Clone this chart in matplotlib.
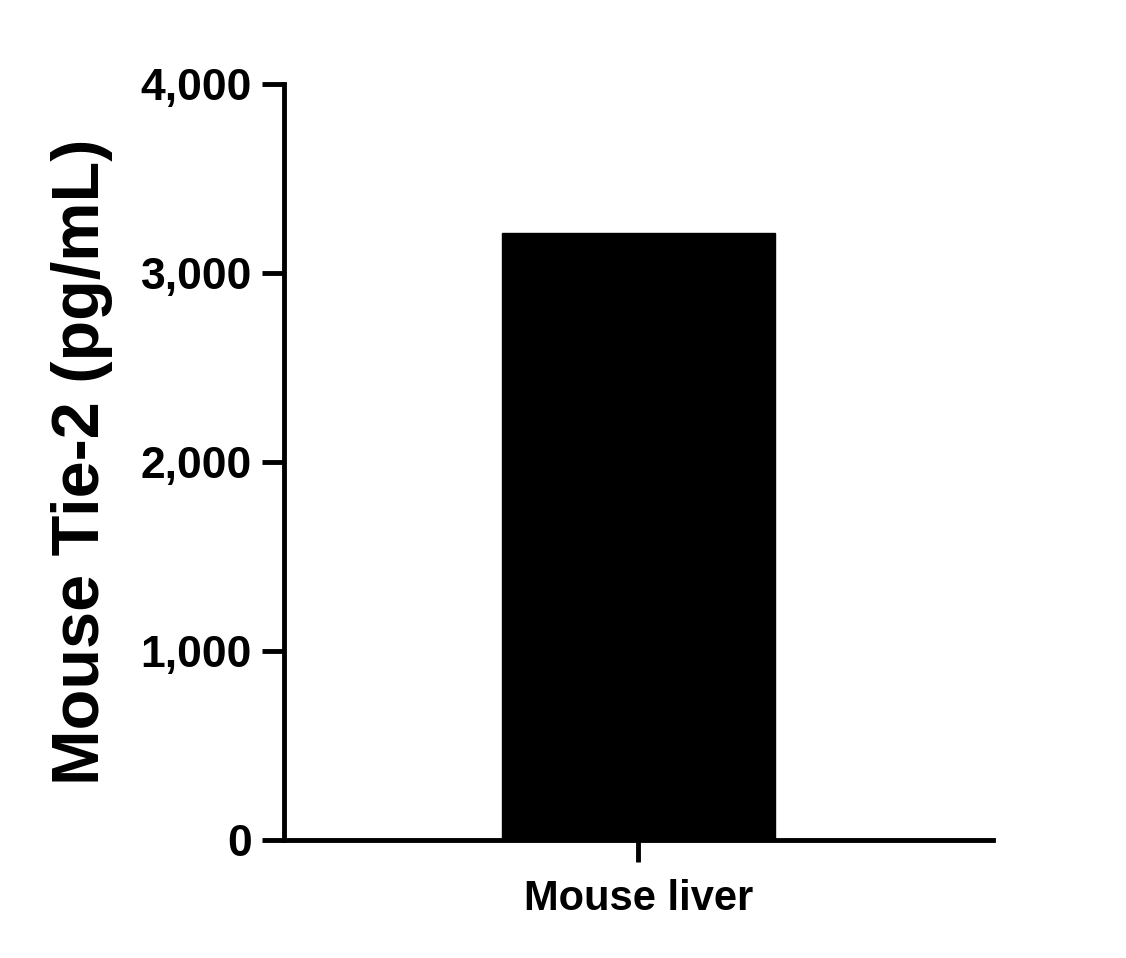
import numpy as np
import matplotlib
matplotlib.use("Agg")
import matplotlib.pyplot as plt

# datos del grafico
grupos = ["Mouse liver"]
valores = [3212]
ticks_y = [0, 1000, 2000, 3000, 4000]

plt.rcParams['font.family'] = ['Liberation Sans', 'DejaVu Sans']
plt.rcParams['font.weight'] = 'bold'

fig = plt.figure(figsize=(11.26, 9.58), dpi=100)
ax = fig.add_axes([0.2522, 0.1232, 0.6297, 0.7891])

x = np.arange(len(grupos))
ax.bar(x, valores, width=0.5, color="black", edgecolor="black")

ax.set_xlim(-0.65, 0.65)
ax.set_ylim(0, 4000)
ax.set_yticks(ticks_y)
ax.set_yticklabels([f"{t:,}" for t in ticks_y])
ax.set_xticks(x)
ax.set_xticklabels(grupos)

for lado in ["top", "right"]:
    ax.spines[lado].set_visible(False)
for lado in ["left", "bottom"]:
    ax.spines[lado].set_linewidth(3.5)

ax.tick_params(axis="both", width=3.5, length=16)
ax.tick_params(axis="y", pad=7, labelsize=32)
ax.tick_params(axis="x", pad=12, labelsize=30)

ax.set_ylabel("Mouse Tie-2 (pg/mL)", fontsize=48, fontweight="bold", labelpad=20)

fig.savefig("out.png", dpi=100)
